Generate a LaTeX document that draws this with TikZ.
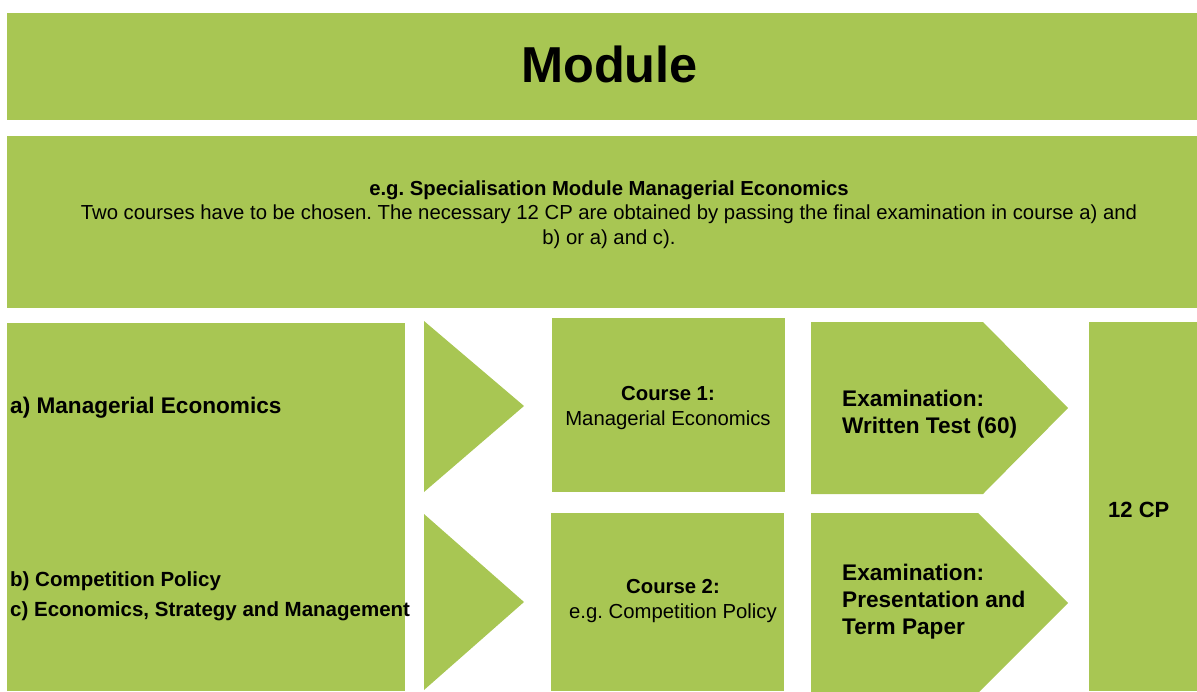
\documentclass[tikz,border=0pt]{standalone}
\usepackage{fontspec}
\setmainfont{Liberation Sans}
\usetikzlibrary{positioning}
\definecolor{modgreen}{RGB}{168,198,83}
\frenchspacing

\begin{document}
\begin{tikzpicture}[
    x=1pt, y=-1pt,
    blk/.style={fill=modgreen, draw=none, inner sep=0pt, anchor=north west},
    hd/.style={font=\fontsize{22.6}{27}\selectfont\bfseries, anchor=base west, align=left, inner sep=0pt},
    crs/.style={font=\fontsize{20.3}{24.5}\selectfont, anchor=base, align=center, inner sep=0pt}
  ]
    \useasboundingbox (0,0) rectangle (1197,691);
    \clip (0,0) rectangle (1197,691);

    % plain boxes
    \node[blk, minimum width=1190pt, minimum height=107pt] (top) at (7,13) {};
    \node[blk, minimum width=1190pt, minimum height=172pt] (info) at (7,136) {};
    \node[blk, minimum width=398pt, minimum height=368pt] (list) at (7,323) {};
    \node[blk, minimum width=233pt, minimum height=174pt] (c1) at (552,318) {};
    \node[blk, minimum width=233pt, minimum height=178pt] (c2) at (551,513) {};
    \node[blk, minimum width=108pt, minimum height=369pt] (cp) at (1089,322) {};

    % triangles and exam arrows
    \fill[modgreen] (424,321) -- (524,406) -- (424,492) -- cycle;
    \fill[modgreen] (424,514) -- (524,602) -- (424,690) -- cycle;
    \fill[modgreen] (811,322) -- (983,322) -- (1068,408) -- (983,494) -- (811,494) -- cycle;
    \fill[modgreen] (811,513) -- (978,513) -- (1068,603) -- (978,693) -- (811,693) -- cycle;

    % texts (base = last line)
    \node[font=\fontsize{50.5}{60}\selectfont\bfseries, anchor=base, inner sep=0pt] (mod) at (609.5,82) {Module};
    \node[font=\fontsize{20.3}{24.5}\selectfont, anchor=base, align=center, inner sep=0pt] (txt) at (609,244)
      {\textbf{e.g. Specialisation Module Managerial Economics}\\
       Two courses have to be chosen. The necessary 12 CP are obtained by passing the final examination in course a) and\\
       b) or a) and c).};

    \node[hd] (la) at (10,413) {a) Managerial Economics};
    \node[hd, font=\fontsize{20.5}{30}\selectfont\bfseries] (lbc) at (10,616)
      {b) Competition Policy\\c) Economics, Strategy and Management};

    \node[crs] (t1) at (668,425) {\textbf{Course 1:}\\Managerial Economics};
    \node[crs] (t2) at (673,618) {\textbf{Course 2:}\\e.g. Competition Policy};

    \node[hd] (e1) at (842,433) {Examination:\\Written Test (60)};
    \node[hd] (e2) at (842,634) {Examination:\\Presentation and\\Term Paper};
    \node[hd, font=\fontsize{22}{27}\selectfont\bfseries] (pts) at (1108,517) {12 CP};
  \end{tikzpicture}
\end{document}
